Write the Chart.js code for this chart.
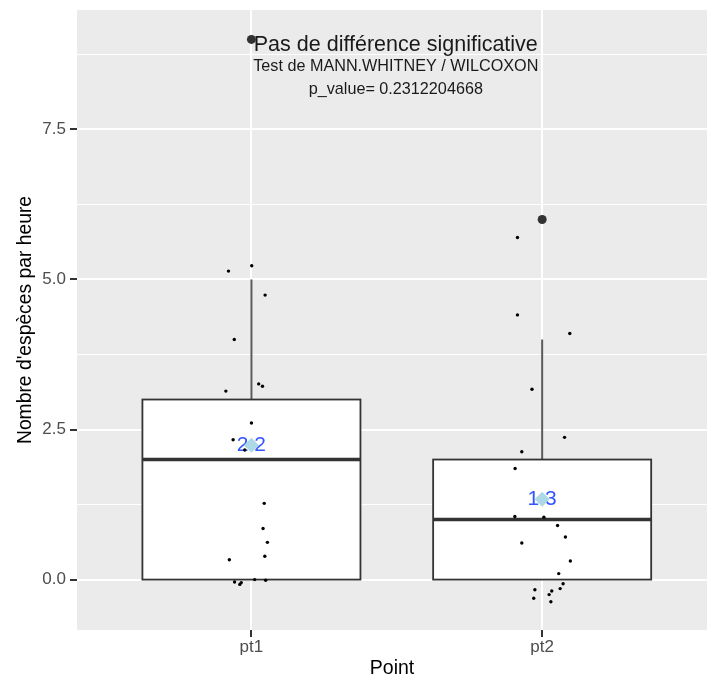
<!DOCTYPE html>
<html>
<head>
<meta charset="utf-8">
<script src="https://cdn.jsdelivr.net/npm/chart.js@4/dist/chart.umd.min.js"></script>
<style>
  html, body { margin: 0; padding: 0; background: #fff; overflow: hidden; }
  canvas { display: block; }
</style>
</head>
<body>
<canvas id="myChart" width="707" height="680"></canvas>
<script>

// categories and box stats
var categories = ['pt1', 'pt2'];
var whiskerLow = [0, 0];
var q1 = [0, 0];
var medians = [2, 1];
var q3 = [3, 2];
var whiskerHigh = [5, 4];
var outliersPt1 = [9];
var outliersPt2 = [6];
var means = [2.24, 1.34];

// jittered observations (value + horizontal jitter in category units)
var pt1Values = [5.14, 5.23, 4.74, 4.0, 3.26, 3.22, 3.14, 2.61, 2.33, 2.16, 1.27, 0.85, 0.62, 0.39, 0.33, 0.0, -0.01, -0.04, -0.08, -0.05];
var pt1Jitter = [-0.079, 0.001, 0.047, -0.059, 0.025, 0.038, -0.088, 0, -0.063, -0.023, 0.044, 0.040, 0.055, 0.046, -0.076, 0.011, 0.049, -0.058, -0.040, -0.035];
var pt2Values = [5.70, 4.41, 4.10, 3.17, 2.37, 2.13, 1.85, 1.05, 1.04, 0.90, 0.71, 0.61, 0.31, 0.10, -0.07, -0.15, -0.17, -0.19, -0.25, -0.31, -0.37];
var pt2Jitter = [-0.085, -0.085, 0.095, -0.035, 0.077, -0.070, -0.093, -0.094, 0.006, 0.053, 0.080, -0.070, 0.097, 0.057, 0.072, 0.062, -0.025, 0.033, 0.024, -0.029, 0.030];

var yTicks = [0, 2.5, 5, 7.5];
var yMinor = [1.25, 3.75, 6.25, 8.75];

var titleLines = ['Pas de différence significative', 'Test de MANN.WHITNEY / WILCOXON', 'p_value= 0.2312204668'];
var titleY = [8.91, 8.54, 8.17];

var FONT = "'Liberation Sans', Arial, sans-serif";
Chart.defaults.font.family = FONT;

var jitterData = [];
pt1Values.forEach(function (v, i) { jitterData.push({ x: 1 + pt1Jitter[i], y: v }); });
pt2Values.forEach(function (v, i) { jitterData.push({ x: 2 + pt2Jitter[i], y: v }); });

var outlierData = [];
outliersPt1.forEach(function (v) { outlierData.push({ x: 1, y: v }); });
outliersPt2.forEach(function (v) { outlierData.push({ x: 2, y: v }); });

var meanData = means.map(function (m, i) { return { x: i + 1, y: m }; });

// grey panel behind everything
var panelBg = {
  id: 'panelBg',
  beforeDraw: function (chart) {
    var a = chart.chartArea, c = chart.ctx;
    c.save();
    c.fillStyle = '#EBEBEB';
    c.fillRect(a.left, a.top, a.right - a.left, a.bottom - a.top);
    c.restore();
  }
};

// boxes, whiskers, title text and mean labels
var boxes = {
  id: 'boxes',
  beforeDatasetsDraw: function (chart) {
    var c = chart.ctx, xs = chart.scales.x, ys = chart.scales.y, a = chart.chartArea;
    c.save();
    c.beginPath();
    c.rect(a.left, a.top, a.right - a.left, a.bottom - a.top);
    c.clip();
    for (var i = 0; i < categories.length; i++) {
      var xc = xs.getPixelForValue(i + 1);
      var xl = xs.getPixelForValue(i + 1 - 0.375);
      var xr = xs.getPixelForValue(i + 1 + 0.375);
      // whiskers
      c.strokeStyle = '#5a5a5a';
      c.lineWidth = 2;
      c.beginPath();
      c.moveTo(xc, ys.getPixelForValue(q3[i]));
      c.lineTo(xc, ys.getPixelForValue(whiskerHigh[i]));
      c.moveTo(xc, ys.getPixelForValue(q1[i]));
      c.lineTo(xc, ys.getPixelForValue(whiskerLow[i]));
      c.stroke();
      // box
      var yt = ys.getPixelForValue(q3[i]), yb = ys.getPixelForValue(q1[i]);
      c.strokeStyle = '#333333';
      c.lineWidth = 1.8;
      c.fillStyle = '#ffffff';
      c.fillRect(xl, yt, xr - xl, yb - yt);
      c.strokeRect(xl, yt, xr - xl, yb - yt);
      // median
      c.lineWidth = 3.5;
      c.beginPath();
      c.moveTo(xl, ys.getPixelForValue(medians[i]));
      c.lineTo(xr, ys.getPixelForValue(medians[i]));
      c.stroke();
      // mean label
      c.fillStyle = '#3355FF';
      c.font = '21px ' + FONT;
      c.textAlign = 'center';
      c.textBaseline = 'middle';
      c.fillText(means[i].toFixed(1), xc, ys.getPixelForValue(means[i]));
    }
    // annotation text
    c.fillStyle = '#1a1a1a';
    c.textAlign = 'center';
    c.textBaseline = 'middle';
    for (var k = 0; k < titleLines.length; k++) {
      c.font = (k === 0 ? '21.5px ' : '16.2px ') + FONT;
      c.fillText(titleLines[k], xs.getPixelForValue(1.5) - 1, ys.getPixelForValue(titleY[k]));
    }
    c.restore();
  }
};

var ctx = document.getElementById('myChart').getContext('2d');

var myChart = new Chart(ctx, {
  type: 'scatter',
  data: {
    datasets: [
      {
        label: 'mean',
        data: meanData,
        pointStyle: 'rectRot',
        pointRadius: 7.5,
        backgroundColor: '#ADD8E6',
        borderWidth: 0
      },
      {
        label: 'obs',
        data: jitterData,
        pointRadius: 1.7,
        backgroundColor: '#000000',
        borderWidth: 0
      },
      {
        label: 'outliers',
        data: outlierData,
        pointRadius: 4.5,
        backgroundColor: '#333333',
        borderWidth: 0
      }
    ]
  },
  options: {
    responsive: false,
    animation: false,
    events: [],
    layout: { autoPadding: false, padding: { top: 10, right: 0, left: 0, bottom: 0 } },
    plugins: { legend: { display: false }, tooltip: { enabled: false } },
    scales: {
      x: {
        type: 'linear',
        min: 0.4,
        max: 2.567,
        afterBuildTicks: function (s) { s.ticks = [{ value: 1 }, { value: 2 }]; },
        afterFit: function (s) { s.height = 50; s.paddingLeft = 0; s.paddingRight = 0; },
        ticks: {
          autoSkip: false,
          maxRotation: 0,
          padding: 0,
          color: '#4D4D4D',
          font: { size: 17 },
          callback: function (v) { return categories[v - 1]; }
        },
        grid: { color: '#ffffff', lineWidth: 2, tickColor: '#333333', tickLength: 7 },
        border: { display: false },
        title: { display: true, text: 'Point', color: '#000', font: { size: 19.5 }, padding: { top: 0, bottom: 0 } }
      },
      y: {
        type: 'linear',
        min: -0.84,
        max: 9.49,
        afterBuildTicks: function (s) {
          s.ticks = yTicks.concat(yMinor).sort(function (a, b) { return a - b; }).map(function (v) { return { value: v }; });
        },
        afterFit: function (s) { s.width = 77; s.paddingTop = 0; s.paddingBottom = 0; },
        ticks: {
          autoSkip: false,
          padding: 4,
          color: '#4D4D4D',
          font: { size: 17 },
          callback: function (v) { return yTicks.indexOf(v) >= 0 ? v.toFixed(1) : ''; }
        },
        grid: {
          color: '#ffffff',
          lineWidth: function (c) { return c.tick && yTicks.indexOf(c.tick.value) >= 0 ? 2 : 1; },
          tickColor: function (c) { return c.tick && yTicks.indexOf(c.tick.value) >= 0 ? '#333333' : 'rgba(0,0,0,0)'; },
          tickLength: 7
        },
        border: { display: false },
        title: { display: true, text: "Nombre d'espèces par heure", color: '#000', font: { size: 19.3 }, padding: { top: 14, bottom: 0 } }
      }
    }
  },
  plugins: [panelBg, boxes]
});

</script>
</body>
</html>
